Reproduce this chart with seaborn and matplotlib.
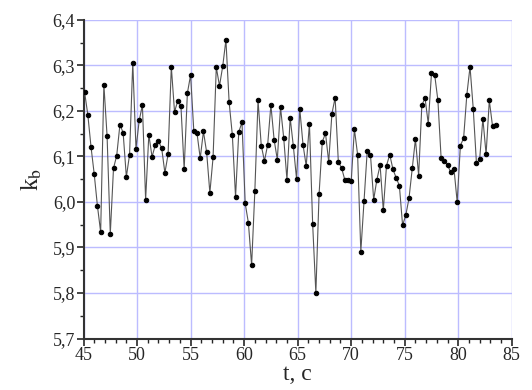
import numpy as np
import pandas as pd
import matplotlib
matplotlib.use('Agg')
import matplotlib.pyplot as plt
from matplotlib.ticker import MultipleLocator, FuncFormatter
import seaborn as sns

# время: отсчёты каждые 0,3 с начиная с 45,1 с
t_start = 45.1
t_step = 0.3

# значения k_b
kb = [6.241, 6.192, 6.121, 6.061, 5.991, 5.934, 6.258, 6.145, 5.930, 6.074,
      6.102, 6.170, 6.152, 6.055, 6.104, 6.306, 6.117, 6.179, 6.213, 6.005,
      6.148, 6.099, 6.125, 6.134, 6.118, 6.064, 6.105, 6.297, 6.198, 6.222,
      6.210, 6.072, 6.239, 6.279, 6.156, 6.151, 6.096, 6.155, 6.109, 6.020,
      6.098, 6.296, 6.255, 6.298, 6.356, 6.219, 6.147, 6.011, 6.154, 6.175,
      5.997, 5.954, 5.861, 6.023, 6.223, 6.124, 6.090, 6.126, 6.213, 6.137,
      6.093, 6.208, 6.140, 6.049, 6.185, 6.122, 6.050, 6.204, 6.126, 6.079,
      6.172, 5.952, 5.800, 6.017, 6.132, 6.151, 6.088, 6.194, 6.229, 6.088,
      6.075, 6.049, 6.049, 6.045, 6.160, 6.104, 5.891, 6.002, 6.113, 6.104,
      6.005, 6.049, 6.081, 5.982, 6.080, 6.104, 6.072, 6.053, 6.036, 5.949,
      5.971, 6.008, 6.074, 6.138, 6.058, 6.213, 6.228, 6.172, 6.283, 6.279,
      6.223, 6.096, 6.090, 6.081, 6.065, 6.073, 6.000, 6.124, 6.140, 6.235,
      6.297, 6.205, 6.085, 6.094, 6.183, 6.105, 6.223, 6.167, 6.169]

t = np.round(t_start + t_step * np.arange(len(kb)), 2)
df = pd.DataFrame({'t': t, 'kb': kb})

sns.set_style('white')
plt.rcParams['font.family'] = ['Liberation Serif', 'DejaVu Serif']
plt.rcParams['mathtext.fontset'] = 'stix'

fig = plt.figure(figsize=(5.32, 3.9), dpi=100)
ax = fig.add_axes([0.157, 0.132, 0.805, 0.817])

ax.grid(True, which='major', color='#bcbcff', linewidth=1.0)
sns.lineplot(data=df, x='t', y='kb', ax=ax, color='#555555', linewidth=0.8,
             marker='o', markersize=3.2, markerfacecolor='black',
             markeredgecolor='black', zorder=3)

ax.set_xlim(45, 85)
ax.set_ylim(5.7, 6.4)
ax.xaxis.set_major_locator(MultipleLocator(5))
ax.xaxis.set_minor_locator(MultipleLocator(1))
ax.yaxis.set_major_locator(MultipleLocator(0.1))
ax.yaxis.set_minor_locator(MultipleLocator(0.05))
ax.yaxis.set_major_formatter(FuncFormatter(lambda v, p: f'{v:.1f}'.replace('.', ',')))

for s in ['top', 'right']:
    ax.spines[s].set_visible(False)
for s in ['left', 'bottom']:
    ax.spines[s].set_color('#333333')
    ax.spines[s].set_linewidth(1.5)

ax.tick_params(which='major', direction='out', length=5, width=1.2,
               labelsize=13, bottom=True, left=True, pad=1)
ax.tick_params(which='minor', direction='out', length=3, width=1.0,
               bottom=True, left=True)

ax.set_xlabel('t, c', fontsize=17, labelpad=0)
ax.set_ylabel('k$_\\mathrm{b}$', fontsize=18, labelpad=6)

fig.savefig('out.png', dpi=100)
